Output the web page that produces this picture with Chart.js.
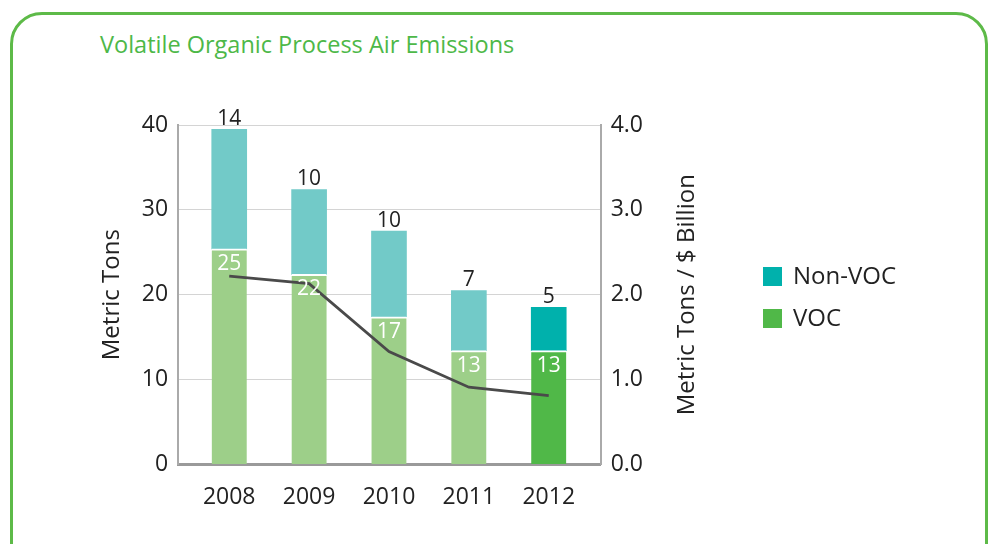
<!DOCTYPE html>
<html>
<head>
<meta charset="utf-8">
<script src="https://cdn.jsdelivr.net/npm/chart.js@4/dist/chart.umd.min.js"></script>
<style>
  body { margin: 0; background: #fff; width: 995px; height: 544px; overflow: hidden; position: relative; font-family: "Open Sans", sans-serif; }
  #frame { position: absolute; left: 10px; top: 12px; width: 978px; height: 580px; border: 3px solid #5dba48; border-radius: 32px; box-sizing: border-box; }
  #title { position: absolute; left: 100px; top: 28px; font-size: 23.5px; color: #4db848; }
  canvas { position: absolute; left: 0; top: 0; }
  #legend { position: absolute; left: 763px; top: 258px; font-size: 24px; color: #222; }
  #legend div { height: 42px; line-height: 34px; white-space: nowrap; }
  #legend span { display: inline-block; width: 19px; height: 19px; margin-right: 11px; vertical-align: -2px; }
</style>
</head>
<body>
<div id="frame"></div>
<div id="title">Volatile Organic Process Air Emissions</div>
<canvas id="chart" width="995" height="544"></canvas>
<div id="legend"></div>
<script>
// values
const years = ['2008', '2009', '2010', '2011', '2012'];
const voc = [25.4, 22.4, 17.4, 13.4, 13.4];
const nonVoc = [14.1, 10.0, 10.1, 7.1, 5.1];
const vocLabels = [25, 22, 17, 13, 13];
const nonVocLabels = [14, 10, 10, 7, 5];
const intensity = [2.22, 2.13, 1.33, 0.91, 0.81];
const leftTicks = [0, 10, 20, 30, 40];
const rightTicks = [0, 1, 2, 3, 4];

// older years are drawn lighter, current year in full colour
const vocColors = ['#9dcf89', '#9dcf89', '#9dcf89', '#9dcf89', '#50b848'];
const nonVocColors = ['#72cac8', '#72cac8', '#72cac8', '#72cac8', '#00b1ac'];

const FONT = '"Open Sans", sans-serif';
const TEXT = '#222';

// numbers on the bars and the right axis title (reads bottom to top)
const extras = {
    id: 'extras',
    afterDatasetsDraw(chart) {
        const ctx = chart.ctx;
        ctx.save();
        ctx.font = '21px ' + FONT;
        ctx.textAlign = 'center';
        ctx.textBaseline = 'middle';
        ctx.fillStyle = '#fff';
        chart.getDatasetMeta(1).data.forEach((bar, i) => {
            ctx.fillText(vocLabels[i], bar.x, bar.y + 15);
        });
        ctx.fillStyle = TEXT;
        ctx.textBaseline = 'alphabetic';
        chart.getDatasetMeta(2).data.forEach((bar, i) => {
            ctx.fillText(nonVocLabels[i], bar.x, bar.y - 4);
        });

        const y2 = chart.scales.y2;
        ctx.translate(y2.left + 86, (y2.top + y2.bottom) / 2);
        ctx.rotate(-Math.PI / 2);
        ctx.font = '24px ' + FONT;
        ctx.textBaseline = 'middle';
        ctx.fillText('Metric Tons / $ Billion', 0, 0);
        ctx.restore();
    }
};

const ctx = document.getElementById('chart').getContext('2d');
const chart = new Chart(ctx, {
    type: 'bar',
    data: {
        datasets: [
            {
                type: 'line',
                label: 'Intensity',
                data: intensity.map((v, i) => ({ x: i, y: v })),
                yAxisID: 'y2',
                borderColor: '#4a4a4a',
                borderWidth: 2.8,
                pointRadius: 0,
                tension: 0,
                order: 0
            },
            {
                label: 'VOC',
                data: voc.map((v, i) => ({ x: i, y: v })),
                backgroundColor: vocColors,
                borderColor: '#fff',
                borderWidth: { top: 2, left: 0, right: 0, bottom: 0 },
                borderSkipped: false,
                barThickness: 35,
                order: 1
            },
            {
                label: 'Non-VOC',
                data: nonVoc.map((v, i) => ({ x: i, y: v })),
                backgroundColor: nonVocColors,
                borderWidth: 0,
                barThickness: 35,
                order: 1
            }
        ]
    },
    options: {
        responsive: false,
        animation: false,
        layout: { padding: { left: 98, top: 125, right: 282, bottom: 22 } },
        plugins: {
            legend: { display: false },
            tooltip: { enabled: false }
        },
        scales: {
            x: {
                type: 'linear',
                stacked: true,
                offset: false,
                min: -0.64,
                max: 4.65,
                afterBuildTicks: s => { s.ticks = years.map((_, i) => ({ value: i })); },
                ticks: {
                    callback: v => years[v],
                    color: TEXT,
                    font: { family: FONT, size: 23 },
                    padding: 11,
                    maxRotation: 0
                },
                grid: { display: false, offset: false },
                border: { color: '#9a9a9a', width: 3 }
            },
            y: {
                stacked: true,
                min: 0,
                max: 40,
                afterBuildTicks: s => { s.ticks = leftTicks.map(v => ({ value: v })); },
                ticks: { color: TEXT, font: { family: FONT, size: 23 }, padding: 10 },
                grid: { color: '#d4d4d4', lineWidth: 1, drawTicks: false },
                border: { color: '#aaa', width: 2 },
                title: {
                    display: true,
                    text: 'Metric Tons',
                    color: TEXT,
                    font: { family: FONT, size: 24 },
                    padding: { top: 0, bottom: 5 }
                }
            },
            y2: {
                position: 'right',
                min: 0,
                max: 4,
                afterBuildTicks: s => { s.ticks = rightTicks.map(v => ({ value: v })); },
                afterFit: s => { s.width += 60; },
                ticks: { color: TEXT, font: { family: FONT, size: 23 }, padding: 10, callback: v => v.toFixed(1) },
                grid: { display: false, drawTicks: false },
                border: { color: '#aaa', width: 2 }
            }
        }
    },
    plugins: [extras]
});

// legend: current-year colours, Non-VOC listed first
const legendItems = [['Non-VOC', nonVocColors[4]], ['VOC', vocColors[4]]];
document.getElementById('legend').innerHTML = legendItems
    .map(([name, color]) => '<div><span style="background:' + color + '"></span>' + name + '</div>')
    .join('');
</script>
</body>
</html>
